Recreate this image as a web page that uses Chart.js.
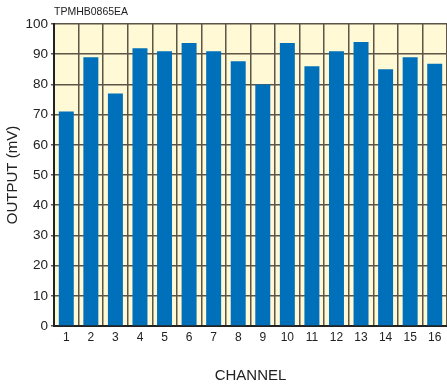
<!DOCTYPE html>
<html>
<head>
<meta charset="utf-8">
<script src="https://cdn.jsdelivr.net/npm/chart.js@4/dist/chart.umd.min.js"></script>
<style>
  html, body { margin: 0; padding: 0; background: #ffffff; }
  #wrap { position: relative; width: 447px; height: 385px; }
  #code { position: absolute; left: 54px; top: 5px; font: 10.5px "Liberation Sans", Arial, sans-serif; color: #222; }
</style>
</head>
<body>
<div id="wrap">
  <canvas id="c" width="447" height="385"></canvas>
  <div id="code">TPMHB0865EA</div>
</div>
<script>
// Output level per channel (mV)
const channels = ['1','2','3','4','5','6','7','8','9','10','11','12','13','14','15','16'];
const outputMv = [71, 89, 77, 92, 91, 93.7, 91, 87.7, 80, 93.7, 86, 91, 94, 85, 89, 86.8];
const yTicks = [0, 10, 20, 30, 40, 50, 60, 70, 80, 90, 100];

const FONT = '"Liberation Sans", Arial, sans-serif';
const GRID = '#5c5548';

// Pale yellow plot background
const plotBg = {
  id: 'plotBg',
  beforeDraw(chart) {
    const { ctx, chartArea: a } = chart;
    ctx.save();
    ctx.fillStyle = '#fff9d6';
    ctx.fillRect(a.left, a.top, a.right - a.left, a.bottom - a.top);
    ctx.restore();
  }
};

new Chart(document.getElementById('c'), {
  type: 'bar',
  data: {
    labels: channels,
    datasets: [{
      data: outputMv,
      backgroundColor: '#0070ba',
      borderWidth: 0,
      barPercentage: 0.61,
      categoryPercentage: 1.0
    }]
  },
  options: {
    responsive: false,
    animation: false,
    devicePixelRatio: 1,
    layout: { padding: { top: 24, right: 0, left: 0, bottom: 0 } },
    plugins: { legend: { display: false }, tooltip: { enabled: false } },
    scales: {
      x: {
        offset: true,
        grid: { color: GRID, lineWidth: 1.5, offset: true, drawTicks: false },
        border: { color: '#222', width: 2 },
        ticks: { color: '#222', font: { family: FONT, size: 12 }, padding: 4, maxRotation: 0, autoSkip: false },
        title: { display: true, text: 'CHANNEL', color: '#222', font: { family: FONT, size: 15 }, padding: { top: 0, bottom: 0 } },
        afterFit(scale) { scale.height = 59; }
      },
      y: {
        min: 0,
        max: 100,
        afterBuildTicks(scale) { scale.ticks = yTicks.map(v => ({ value: v })); },
        grid: { color: GRID, lineWidth: 1.5, tickLength: 3 },
        border: { color: '#222', width: 2 },
        ticks: { color: '#222', font: { family: FONT, size: 13.5 }, padding: 3 },
        title: { display: true, text: 'OUTPUT (mV)', color: '#222', font: { family: FONT, size: 15 }, padding: { top: 4, bottom: 0 } },
        afterFit(scale) { scale.width = 54; }
      }
    }
  },
  plugins: [plotBg]
});
</script>
</body>
</html>
